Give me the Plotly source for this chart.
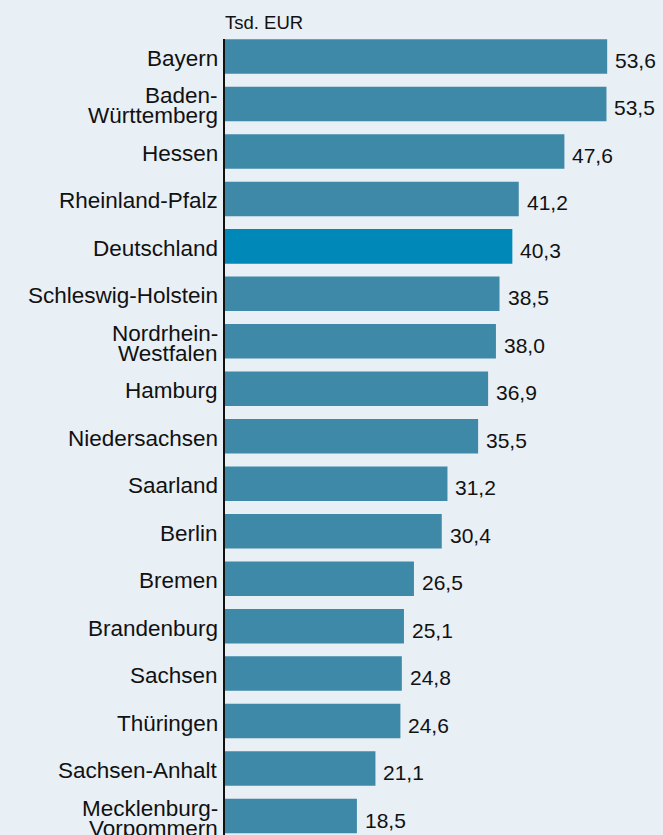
import plotly.graph_objects as go

states = ["Bayern", "Baden-Württemberg", "Hessen", "Rheinland-Pfalz", "Deutschland",
          "Schleswig-Holstein", "Nordrhein-Westfalen", "Hamburg", "Niedersachsen",
          "Saarland", "Berlin", "Bremen", "Brandenburg", "Sachsen", "Thüringen",
          "Sachsen-Anhalt", "Mecklenburg-Vorpommern"]
label_lines = [["Bayern"], ["Baden-", "Württemberg"], ["Hessen"], ["Rheinland-Pfalz"],
               ["Deutschland"], ["Schleswig-Holstein"], ["Nordrhein-", "Westfalen"],
               ["Hamburg"], ["Niedersachsen"], ["Saarland"], ["Berlin"], ["Bremen"],
               ["Brandenburg"], ["Sachsen"], ["Thüringen"], ["Sachsen-Anhalt"],
               ["Mecklenburg-", "Vorpommern"]]
values = [53.6, 53.5, 47.6, 41.2, 40.3, 38.5, 38.0, 36.9, 35.5, 31.2, 30.4, 26.5,
          25.1, 24.8, 24.6, 21.1, 18.5]
unit_label = "Tsd. EUR"

BAR = "#3e89a7"
HIGHLIGHT = "#0088b8"
BG = "#e8eff5"
TXT = "#111111"
FONT = "Liberation Sans, Arial, sans-serif"

colors = [HIGHLIGHT if s == "Deutschland" else BAR for s in states]

fig = go.Figure(go.Bar(
    x=values, y=states, orientation="h",
    marker=dict(color=colors, line=dict(width=0)),
    hoverinfo="skip",
))

annotations = []
for s, lines in zip(states, label_lines):
    n = len(lines)
    for i, ln in enumerate(lines):
        annotations.append(dict(
            x=0, xref="paper", y=s, yref="y", xanchor="right", yanchor="middle",
            xshift=-5, yshift=(n - 1) * 10 - i * 20 - 2,
            text=ln, showarrow=False, font=dict(family=FONT, size=22.5, color=TXT),
        ))
for s, v in zip(states, values):
    annotations.append(dict(
        x=v, xref="x", y=s, yref="y", xanchor="left", yanchor="middle",
        xshift=6, yshift=-4,
        text=f"{v:.1f}".replace(".", ","), showarrow=False,
        font=dict(family=FONT, size=21, color=TXT),
    ))
annotations.append(dict(
    x=0, xref="paper", y=1, yref="paper", xanchor="left", yanchor="middle",
    xshift=-2, yshift=17, text=unit_label, showarrow=False,
    font=dict(family=FONT, size=18.5, color=TXT),
))

fig.update_layout(
    width=663, height=835,
    margin=dict(l=225, r=0, t=39, b=0, pad=0),
    paper_bgcolor=BG, plot_bgcolor=BG,
    bargap=0.273,
    showlegend=False,
    annotations=annotations,
    xaxis=dict(range=[0, 61.43], showgrid=False, zeroline=False,
               showticklabels=False, ticks="", showline=False, fixedrange=True),
    yaxis=dict(type="category", categoryorder="array", categoryarray=states,
               range=[16.4, -0.3687], showgrid=False, zeroline=False,
               showticklabels=False, ticks="", showline=True,
               linecolor="#111111", linewidth=1.5, fixedrange=True),
)

fig.write_html(
    "out.html",
    config={"displayModeBar": False},
    post_script="document.body.style.margin='0';document.body.style.overflow='hidden';",
)
